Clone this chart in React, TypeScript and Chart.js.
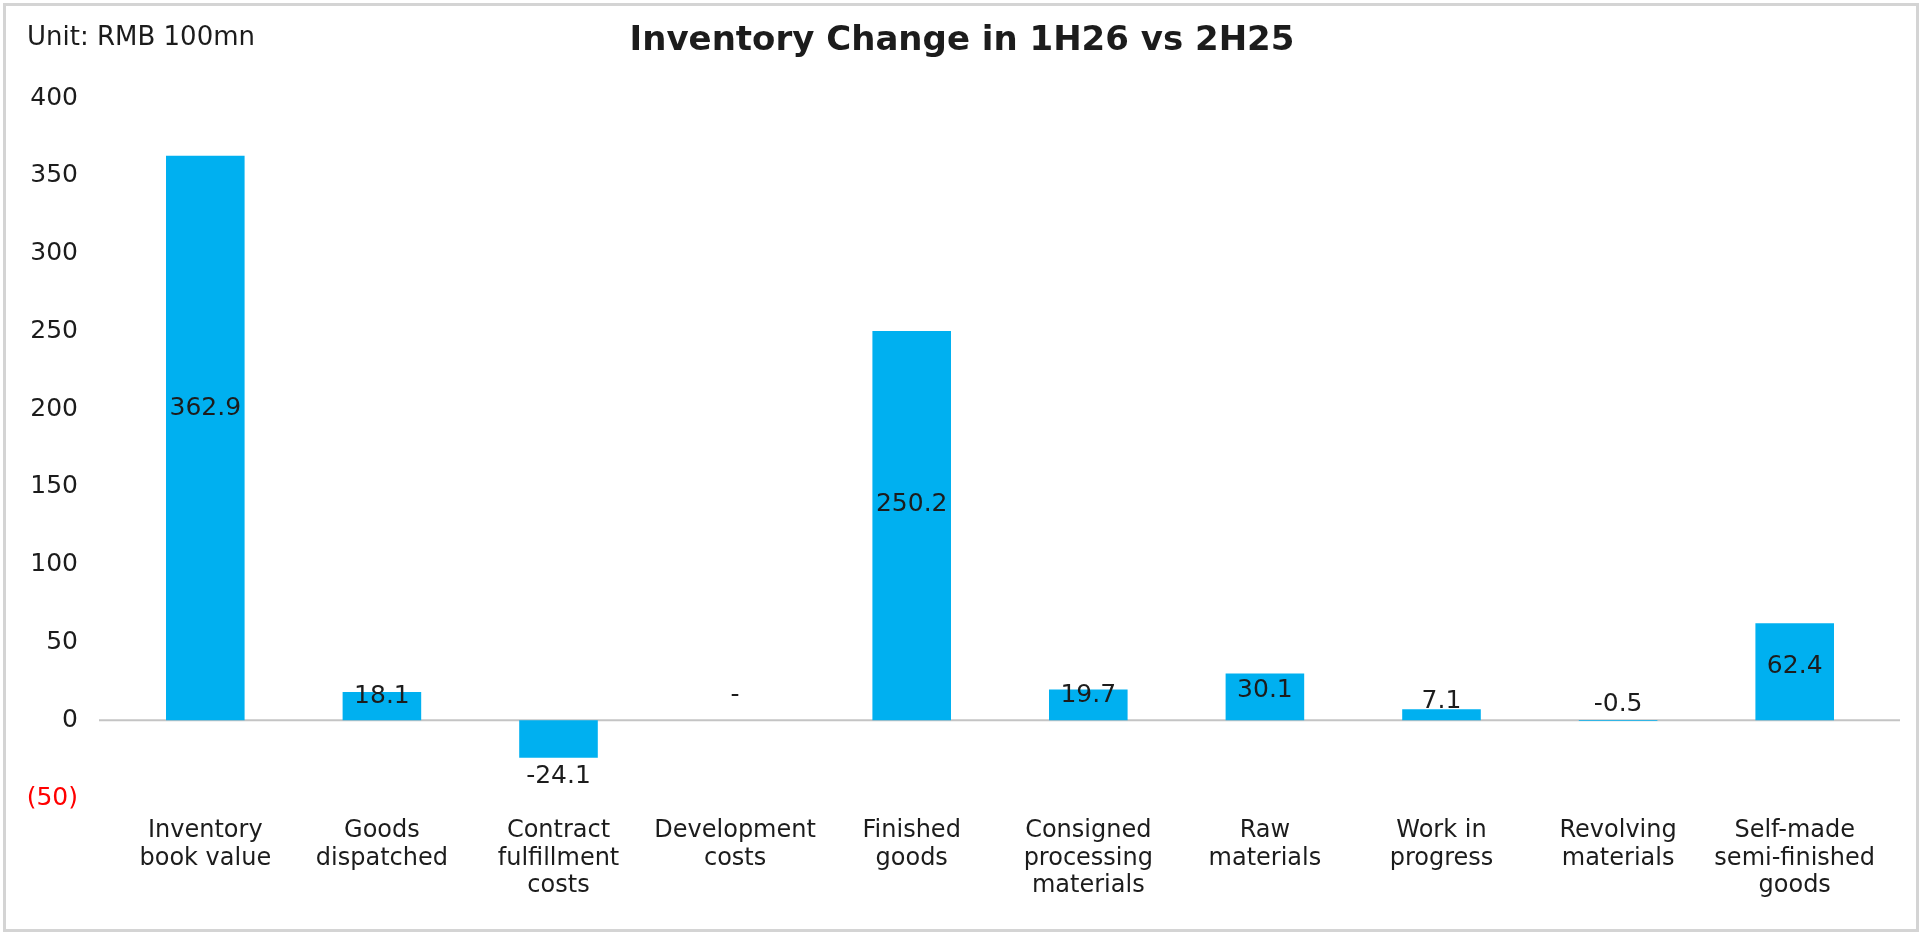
import { useEffect, useRef } from 'react';
import Chart from 'chart.js/auto';

const categories = [
  ['Inventory', 'book value'],
  ['Goods', 'dispatched'],
  ['Contract', 'fulfillment', 'costs'],
  ['Development', 'costs'],
  ['Finished', 'goods'],
  ['Consigned', 'processing', 'materials'],
  ['Raw', 'materials'],
  ['Work in', 'progress'],
  ['Revolving', 'materials'],
  ['Self-made', 'semi-finished', 'goods'],
];
const changeValues = [362.9, 18.1, -24.1, 0, 250.2, 19.7, 30.1, 7.1, -0.5, 62.4];
const yMin = -50;
const yMax = 400;
const yStep = 50;

const chartTitle = 'Inventory Change in 1H26 vs 2H25';
const unitText = 'Unit: RMB 100mn';

const FONT = "'DejaVu Sans', 'Noto Sans', sans-serif";
const TEXT = '#1c1c1c';
const BAR = '#00b0f0';

// zero line runs a little past the plot area on both sides
const zeroLine = {
  id: 'zeroLine',
  beforeDatasetsDraw(chart: any) {
    const { ctx, chartArea, scales } = chart;
    const y0 = scales.y.getPixelForValue(0);
    ctx.save();
    ctx.strokeStyle = '#c4c4c4';
    ctx.lineWidth = 2;
    ctx.beginPath();
    ctx.moveTo(chartArea.left - 18, y0);
    ctx.lineTo(chartArea.right + 17, y0);
    ctx.stroke();
    ctx.restore();
  },
};

const barLabels = {
  id: 'barLabels',
  afterDatasetsDraw(chart: any) {
    const { ctx, scales } = chart;
    const meta = chart.getDatasetMeta(0);
    ctx.save();
    ctx.font = `25px ${FONT}`;
    ctx.fillStyle = TEXT;
    ctx.textAlign = 'center';
    ctx.textBaseline = 'middle';
    meta.data.forEach((bar: any, i: number) => {
      const v = changeValues[i];
      const text = v === 0 ? '-' : v.toFixed(1);
      let py;
      if (v < -1) {
        py = scales.y.getPixelForValue(v) + 19;
      } else if (v === 0) {
        // the dash sits low in the line, lift it a bit
        py = scales.y.getPixelForValue(16);
      } else {
        py = scales.y.getPixelForValue(Math.max(v * 0.553, v * 0.3 + 10));
      }
      ctx.fillText(text, bar.x, py);
    });
    ctx.restore();
  },
};

const headings = {
  id: 'headings',
  afterDraw(chart: any) {
    const { ctx, width } = chart;
    ctx.save();
    ctx.fillStyle = TEXT;
    ctx.textBaseline = 'middle';
    ctx.textAlign = 'center';
    ctx.font = `bold 34px ${FONT}`;
    ctx.fillText(chartTitle, width / 2, 41);
    ctx.textAlign = 'left';
    ctx.font = `26px ${FONT}`;
    ctx.fillText(unitText, 27, 38);
    ctx.restore();
  },
};

export default function App() {
  const chartRef = useRef<HTMLCanvasElement>(null);
  const chartInstance = useRef<Chart | null>(null);

  useEffect(() => {
    if (!chartRef.current) return;
    if (chartInstance.current) {
      chartInstance.current.destroy();
    }

    chartInstance.current = new Chart(chartRef.current, {
      type: 'bar',
      data: {
        labels: categories,
        datasets: [{
          data: changeValues,
          backgroundColor: BAR,
          borderWidth: 0,
          barPercentage: 0.445,
          categoryPercentage: 1,
        }],
      },
      options: {
        responsive: false,
        animation: false,
        devicePixelRatio: 1,
        layout: { padding: { left: 0, right: 41, top: 98, bottom: 0 } },
        plugins: {
          legend: { display: false },
          tooltip: { enabled: false },
        },
        scales: {
          x: {
            grid: { display: false, drawTicks: false },
            border: { display: false },
            ticks: {
              color: TEXT,
              padding: 19,
              maxRotation: 0,
              autoSkip: false,
              font: { family: FONT, size: 24, lineHeight: 1.15 },
            },
            afterFit: (scale: any) => { scale.height = 140; },
          },
          y: {
            min: yMin,
            max: yMax,
            grid: { display: false, drawTicks: false },
            border: { display: false },
            ticks: {
              stepSize: yStep,
              padding: 39,
              color: (c: any) => (c.tick.value < 0 ? '#ff0000' : TEXT),
              callback: (v: any) => (v < 0 ? `(${-v})` : `${v}`),
              font: { family: FONT, size: 25 },
            },
            afterFit: (scale: any) => { scale.width = 117; },
          },
        },
      },
      plugins: [zeroLine, barLabels, headings],
    });

    return () => {
      if (chartInstance.current) {
        chartInstance.current.destroy();
        chartInstance.current = null;
      }
    };
  }, []);

  return (
    <div style={{ position: 'absolute', left: 0, top: 0, width: 1924, height: 938, background: '#ffffff' }}>
      <canvas ref={chartRef} width={1924} height={938} style={{ display: 'block' }} />
      <div
        style={{
          position: 'absolute',
          left: 3,
          top: 3,
          width: 1916,
          height: 929,
          boxSizing: 'border-box',
          border: '3px solid #d4d4d4',
          pointerEvents: 'none',
        }}
      />
    </div>
  );
}
